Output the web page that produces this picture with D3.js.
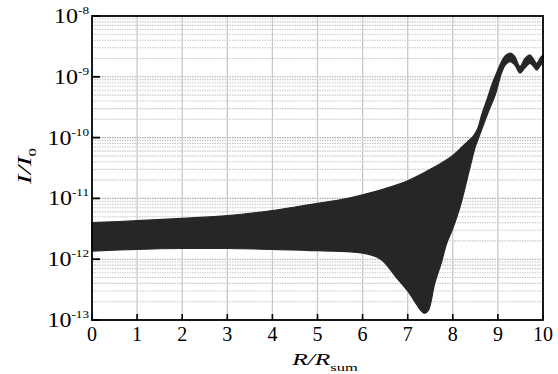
<!DOCTYPE html>
<html>
<head>
<meta charset="utf-8">
<script src="https://cdn.jsdelivr.net/npm/d3@7"></script>
<style>
  html, body { margin: 0; padding: 0; background: #fff; }
  svg { display: block; }
  text { font-family: "Liberation Serif", "Times New Roman", Times, serif; }
</style>
</head>
<body>
<svg id="chart" width="558" height="374"></svg>
<script>
// upper envelope of the oscillating signal (R/Rsum, I/I0)
const topR = [0, 1, 2, 3, 4, 5, 5.5, 6, 6.5, 7, 7.5, 8.0, 8.25, 8.45, 8.55, 8.65, 8.78, 8.88, 8.97, 9.08, 9.17, 9.27, 9.37, 9.49, 9.6, 9.71, 9.8, 9.86, 9.93, 10];
const topI = [4.0e-12, 4.3e-12, 4.7e-12, 5.2e-12, 6.3e-12, 8.3e-12, 9.5e-12, 1.15e-11, 1.45e-11, 1.95e-11, 3.0e-11, 5.1e-11, 7.6e-11, 1.05e-10, 1.4e-10, 2.5e-10, 4.7e-10, 7.9e-10, 1.15e-9, 1.78e-9, 2.24e-9, 2.45e-9, 2.19e-9, 1.48e-9, 2.0e-9, 2.29e-9, 1.9e-9, 1.66e-9, 2.0e-9, 2.29e-9];

// lower envelope
const botR = [0, 1, 2, 3, 4, 5, 6, 6.4, 6.75, 7.0, 7.2, 7.3, 7.38, 7.46, 7.6, 7.75, 7.86, 8.0, 8.16, 8.38, 8.5, 8.6, 8.7, 8.8, 8.94, 9.08, 9.17, 9.27, 9.37, 9.49, 9.6, 9.71, 9.8, 9.86, 9.93, 10];
const botI = [1.36e-12, 1.45e-12, 1.5e-12, 1.5e-12, 1.45e-12, 1.38e-12, 1.26e-12, 1.0e-12, 5.0e-13, 3.0e-13, 1.78e-13, 1.41e-13, 1.29e-13, 1.45e-13, 4.0e-13, 8.9e-13, 1.78e-12, 3.2e-12, 7.2e-12, 3.2e-11, 7.1e-11, 1.12e-10, 1.78e-10, 2.8e-10, 5.0e-10, 1.15e-9, 1.58e-9, 1.78e-9, 1.58e-9, 1.15e-9, 1.4e-9, 1.66e-9, 1.45e-9, 1.29e-9, 1.48e-9, 1.78e-9];

const xTicks = [0, 1, 2, 3, 4, 5, 6, 7, 8, 9, 10];
const yExponents = [-8, -9, -10, -11, -12, -13];

const svg = d3.select('#chart');
const mLeft = 92, mRight = 543, mTop = 16, mBottom = 320;

const x = d3.scaleLinear().domain([0, 10]).range([mLeft, mRight]);
const y = d3.scaleLog().domain([1e-13, 1e-8]).range([mBottom, mTop]);

// grid
const grid = svg.append('g');
const minor = [];
for (let e = -13; e < -8; e++) {
  for (let m = 1; m <= 9; m++) minor.push(m * Math.pow(10, e));
}
grid.selectAll('line.h')
  .data(minor)
  .enter()
  .append('line')
  .attr('x1', mLeft).attr('x2', mRight)
  .attr('y1', d => y(d)).attr('y2', d => y(d))
  .attr('stroke', (d, i) => i % 9 === 0 ? '#a8a8a8' : '#c8c8c8')
  .attr('stroke-width', 1.1)
  .attr('stroke-dasharray', '1.5,1');

grid.selectAll('line.v')
  .data(xTicks.slice(1, -1))
  .enter()
  .append('line')
  .attr('y1', mTop).attr('y2', mBottom)
  .attr('x1', d => x(d)).attr('x2', d => x(d))
  .attr('stroke', '#c8c8c8')
  .attr('stroke-width', 1.3);

// the band
const line = d3.line()
  .x(d => x(d[0]))
  .y(d => y(d[1]))
  .curve(d3.curveCatmullRom.alpha(0.5));

const upper = topR.map((r, i) => [r, topI[i]]);
const lower = botR.map((r, i) => [r, botI[i]]).reverse();
const bandPath = line(upper) + 'L' + line(lower).slice(1) + 'Z';

svg.append('path')
  .attr('d', bandPath)
  .attr('fill', '#262626')
  .attr('stroke', '#262626')
  .attr('stroke-width', 1.2)
  .attr('stroke-linejoin', 'round');

// frame
svg.append('rect')
  .attr('x', mLeft).attr('y', mTop)
  .attr('width', mRight - mLeft).attr('height', mBottom - mTop)
  .attr('fill', 'none')
  .attr('stroke', '#000')
  .attr('stroke-width', 1.8);

// ticks (inward)
svg.selectAll('line.xt')
  .data(xTicks)
  .enter()
  .append('line')
  .attr('x1', d => x(d)).attr('x2', d => x(d))
  .attr('y1', mBottom).attr('y2', mBottom - 6)
  .attr('stroke', '#000').attr('stroke-width', 1.6);

svg.selectAll('line.yt')
  .data(yExponents)
  .enter()
  .append('line')
  .attr('x1', mLeft).attr('x2', mLeft + 8)
  .attr('y1', d => y(Math.pow(10, d))).attr('y2', d => y(Math.pow(10, d)))
  .attr('stroke', '#000').attr('stroke-width', 1.8);

// x tick labels
svg.selectAll('text.xl')
  .data(xTicks)
  .enter()
  .append('text')
  .attr('x', d => x(d))
  .attr('y', 341)
  .attr('text-anchor', 'middle')
  .style('font-size', '20px')
  .text(d => d);

// y tick labels 10^n
const yl = svg.selectAll('g.yl')
  .data(yExponents)
  .enter()
  .append('g')
  .attr('transform', d => `translate(89,${y(Math.pow(10, d)) + 7}) scale(1.2,1)`);

const ylText = yl.append('text')
  .attr('text-anchor', 'end')
  .style('font-size', '20px');
ylText.append('tspan').text('10');
ylText.append('tspan')
  .attr('dy', -9)
  .style('font-size', '11px')
  .text(d => '-' + Math.abs(d));

// axis titles
const xt = svg.append('g')
  .attr('transform', 'translate(325,365) scale(1.5,1)')
  .append('text')
  .attr('text-anchor', 'middle')
  .style('font-size', '17px');
xt.append('tspan').style('font-style', 'italic').text('R/R');
xt.append('tspan').attr('dy', 6).style('font-size', '11px').text('sum');

const yt = svg.append('g')
  .attr('transform', 'translate(31,166) rotate(-90) scale(1.55,1)')
  .append('text')
  .attr('text-anchor', 'middle')
  .style('font-size', '19px');
yt.append('tspan').style('font-style', 'italic').text('I/I');
yt.append('tspan').attr('dy', 5).style('font-size', '11px').text('0');
</script>
</body>
</html>
